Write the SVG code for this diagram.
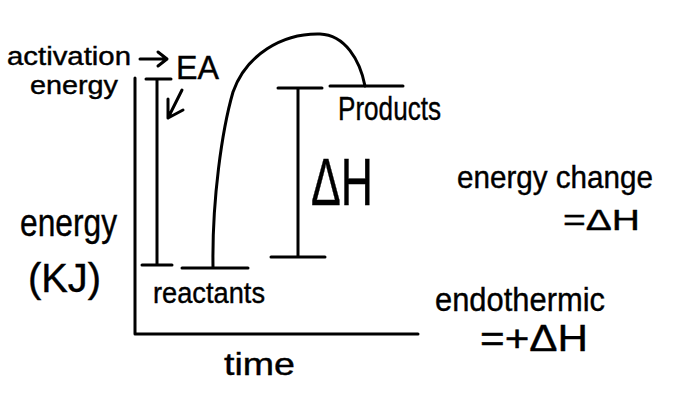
<svg xmlns="http://www.w3.org/2000/svg" width="677" height="419" viewBox="0 0 677 419">
<style>
.ln{stroke:#000;stroke-width:3;fill:none;stroke-linecap:round;stroke-linejoin:round}
.t{font-family:"Liberation Sans Narrow","Liberation Sans",Arial,sans-serif;fill:#000;stroke:#000;stroke-width:0.4}
</style>
<rect width="677" height="419" fill="#fff"/>
<g id="axes">
<polyline class="ln" points="135,78 135,334 418,334"/>
</g>
<g id="connectors">
<path class="ln" d="M146,79 H171 M157,79 V265 M142,265 H172"/>
<path class="ln" d="M278,88 H322 M298,88 V257 M271,257 H325"/>
<path class="ln" d="M182,268 H248 M330,86 H403"/>
<path class="ln" d="M213,267 C212,200 222,130 233,92 C246,55 282,33 320,34 C345,35 360,60 365,86"/>
<path class="ln" d="M140,59 H166 M158,52 L167,59 L158,66"/>
<path class="ln" d="M182,90 L168,118 M168,99 L168,118 L183,110"/>
</g>
<g id="labels">
<text class="t" x="7" y="65" font-size="25" textLength="124" lengthAdjust="spacingAndGlyphs">activation</text>
<text class="t" x="30" y="94" font-size="25" textLength="88" lengthAdjust="spacingAndGlyphs">energy</text>
<text class="t" x="176" y="79" font-size="34" textLength="43" lengthAdjust="spacingAndGlyphs">EA</text>
<text class="t" x="338" y="120" font-size="33" textLength="103" lengthAdjust="spacingAndGlyphs">Products</text>
<text class="t" x="153" y="303" font-size="30" textLength="112" lengthAdjust="spacingAndGlyphs">reactants</text>
<text class="t" x="20" y="236" font-size="38" textLength="97" lengthAdjust="spacingAndGlyphs">energy</text>
<text class="t" x="28" y="292" font-size="40" textLength="73" lengthAdjust="spacingAndGlyphs">(KJ)</text>
<text class="t" x="224" y="375" font-size="32" textLength="71" lengthAdjust="spacingAndGlyphs">time</text>
<text class="t" x="311" y="205" font-size="66" textLength="62" lengthAdjust="spacingAndGlyphs">ΔH</text>
<text class="t" x="457" y="188" font-size="32" textLength="196" lengthAdjust="spacingAndGlyphs">energy change</text>
<text class="t" x="563" y="230" font-size="30" textLength="77" lengthAdjust="spacingAndGlyphs">=ΔH</text>
<text class="t" x="435" y="311" font-size="34" textLength="170" lengthAdjust="spacingAndGlyphs">endothermic</text>
<text class="t" x="480" y="351" font-size="36" textLength="108" lengthAdjust="spacingAndGlyphs">=+ΔH</text>
</g>
</svg>
